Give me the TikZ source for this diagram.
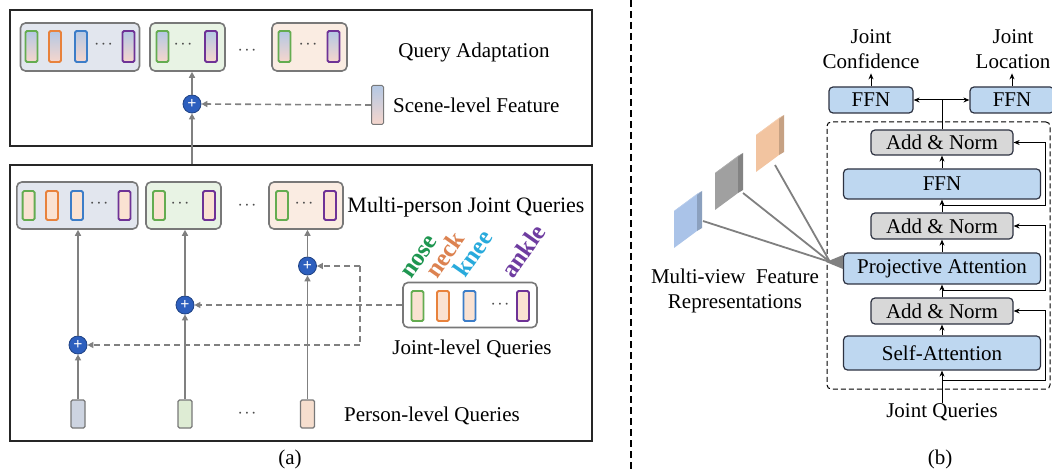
\documentclass[tikz,border=0pt]{standalone}
\usepackage{fontspec}
\setmainfont{Liberation Serif}
\usetikzlibrary{arrows.meta,calc}
\definecolor{garrow}{RGB}{128,128,128}
\definecolor{gbord}{RGB}{120,120,120}
\definecolor{gafill}{RGB}{226,230,238}
\definecolor{gbfill}{RGB}{232,243,228}
\definecolor{gcfill}{RGB}{250,236,226}
\definecolor{cgreen}{RGB}{100,172,80}
\definecolor{corange}{RGB}{232,130,60}
\definecolor{cblue}{RGB}{60,125,200}
\definecolor{cpurple}{RGB}{110,50,150}
\definecolor{bartop}{RGB}{180,200,228}
\definecolor{barbot}{RGB}{246,214,204}
\definecolor{peach}{RGB}{250,226,210}
\definecolor{plusblue}{RGB}{45,95,190}
\definecolor{boxblue}{RGB}{190,215,240}
\definecolor{boxgray}{RGB}{216,216,216}
\definecolor{boxdraw}{RGB}{45,50,65}
\definecolor{nosec}{RGB}{30,150,80}
\definecolor{neckc}{RGB}{220,130,80}
\definecolor{kneec}{RGB}{40,170,220}
\definecolor{anklec}{RGB}{110,60,160}
\definecolor{pbone}{RGB}{205,212,225}
\definecolor{pbtwo}{RGB}{222,236,212}
\definecolor{pbthree}{RGB}{246,222,206}
\definecolor{slabblue}{RGB}{170,195,232}
\definecolor{slabgray}{RGB}{160,160,160}
\definecolor{slaborange}{RGB}{242,196,160}
\newcommand\drawslab[3]{%
  \fill[#3] (#1,#2) -- (#1,#2-37) -- (#1+23,#2-54) -- (#1+23,#2-17) -- cycle;
  \fill[#3!82!black] (#1+23,#2-17) -- (#1+23,#2-54) -- (#1+28,#2-57) -- (#1+28,#2-20) -- cycle;
  \fill[#3!80!white] (#1,#2-37) -- (#1+5,#2-40) -- (#1+28,#2-57) -- (#1+23,#2-54) -- cycle;
}
\newcommand\gdots{·\kern1.5pt·\kern1.5pt·}
\begin{document}
\begin{tikzpicture}[x=1pt,y=-1pt,
  grp/.style={draw=gbord, line width=1.6pt, rounded corners=5pt, inner sep=0pt},
  qbar/.style={draw=#1, line width=1.8pt, rounded corners=1.5pt, minimum width=12pt, inner sep=0pt},
  topbar/.style={qbar=#1, top color=bartop, bottom color=barbot, minimum height=31pt},
  botbar/.style={qbar=#1, fill=peach, minimum height=29pt},
  pbar/.style={draw=gbord, fill=#1, line width=1.4pt, rounded corners=1.5pt, minimum width=14pt, minimum height=28pt, inner sep=0pt},
  plusnode/.style={circle, fill=plusblue, draw=plusblue!70!black, line width=0.8pt, minimum size=18pt, inner sep=0pt, text=white, font=\bfseries\fontsize{16}{16}\selectfont},
  garr/.style={draw=garrow, line width=1.6pt, -{Triangle[length=6pt,width=6pt]}},
  gdash/.style={garr, dash pattern=on 6pt off 4pt},
  txt/.style={font=\fontsize{21}{25}\selectfont, inner sep=0pt},
  gdot/.style={font=\fontsize{16}{16}\selectfont, inner sep=0pt, text=black!70},
  lab/.style={font=\bfseries\fontsize{25}{25}\selectfont, rotate=55, anchor=base west, inner sep=0pt},
  bbox/.style={draw=boxdraw, fill=boxblue, line width=1.2pt, rounded corners=4pt, inner sep=0pt, font=\fontsize{21}{21}\selectfont},
  gbox/.style={bbox, fill=boxgray},
  arr/.style={draw=black, line width=1pt, -{Stealth[length=6pt,width=5pt]}},
  slabline/.style={draw=garrow, line width=1.8pt}
]
\useasboundingbox (0,0) rectangle (1052,470);
\fill[white] (0,0) rectangle (1052,470);

% ---------- panel (a) ----------
\node[draw=black!85, line width=1.6pt, minimum width=582pt, minimum height=136pt, inner sep=0pt] (qa) at (301,78) {};
\node[draw=black!85, line width=1.6pt, minimum width=582pt, minimum height=276pt, inner sep=0pt] (mj) at (301,303) {};

% top groups
\node[grp, fill=gafill, minimum width=119pt, minimum height=48pt] (tga) at (80,47) {};
\node[grp, fill=gbfill, minimum width=75pt, minimum height=48pt] (tgb) at (187.5,47) {};
\node[grp, fill=gcfill, minimum width=75pt, minimum height=48pt] (tgc) at (309.5,47) {};
\node[topbar=cgreen] (ta1) at (31.5,46.5) {};
\node[topbar=corange] (ta2) at (55,46.5) {};
\node[topbar=cblue] (ta3) at (81,46.5) {};
\node[gdot] (tad) at (103.5,46.5) {\gdots};
\node[topbar=cpurple] (ta4) at (128.5,46.5) {};
\node[topbar=cgreen] (tb1) at (162.5,46.5) {};
\node[gdot] (tbd) at (183,46.5) {\gdots};
\node[topbar=cpurple] (tb4) at (211,46.5) {};
\node[topbar=cgreen] (tc1) at (284.5,46.5) {};
\node[gdot] (tcd) at (308,46.5) {\gdots};
\node[topbar=cpurple] (tc4) at (333.5,46.5) {};
\node[gdot] (tgd) at (247,52) {\gdots};
\node[txt] (tqa) at (474,52) {Query Adaptation};

\node[plusnode] (p0) at (192,104) {+};
\node[qbar=gbord, line width=1pt, top color=bartop, bottom color=barbot, minimum height=39pt] (scene) at (377.5,105) {};
\node[txt, anchor=west] (tsf) at (393,105) {Scene-level Feature};
\draw[gdash] (scene.west) -- (p0.east);
\draw[garr] (mj.north -| p0) -- (p0.south);
\draw[garr] (p0.north) -- (p0.north |- tgb.south);

% bottom groups
\node[grp, fill=gafill, minimum width=121pt, minimum height=47pt] (bga) at (77.3,205.5) {};
\node[grp, fill=gbfill, minimum width=75pt, minimum height=47pt] (bgb) at (183.5,205.5) {};
\node[grp, fill=gcfill, minimum width=74pt, minimum height=47pt] (bgc) at (306,205.5) {};
\node[botbar=cgreen] (ba1) at (28.6,205.5) {};
\node[botbar=corange] (ba2) at (52,205.5) {};
\node[botbar=cblue] (ba3) at (77,205.5) {};
\node[gdot] (bad) at (99,205.5) {\gdots};
\node[botbar=cpurple] (ba4) at (124.5,205.5) {};
\node[botbar=cgreen] (bb1) at (159,205.5) {};
\node[gdot] (bbd) at (180,205.5) {\gdots};
\node[botbar=cpurple] (bb4) at (209,205.5) {};
\node[botbar=cgreen] (bc1) at (282,205.5) {};
\node[gdot] (bcd) at (304,205.5) {\gdots};
\node[botbar=cpurple] (bc4) at (330,205.5) {};
\node[gdot] (bgd) at (247,207) {\gdots};
\node[txt, font=\fontsize{22}{25}\selectfont] (tmj) at (466,207) {Multi-person Joint Queries};

% person-level queries
\node[pbar=pbone] (pq1) at (78,414) {};
\node[pbar=pbtwo] (pq2) at (185,414) {};
\node[pbar=pbthree] (pq3) at (307.5,414) {};
\node[gdot] (pqd) at (247,415) {\gdots};
\node[txt] (tpq) at (432,416) {Person-level Queries};

\node[plusnode] (pl1) at (78,345) {+};
\node[plusnode] (pl2) at (185,305) {+};
\node[plusnode] (pl3) at (307.5,266) {+};
\draw[garr] (pq1.north) -- (pl1.south);
\draw[garr] (pl1.north) -- (pl1.north |- bga.south);
\draw[garr] (pq2.north) -- (pl2.south);
\draw[garr] (pl2.north) -- (pl2.north |- bgb.south);
\draw[garr] (pq3.north) -- (pl3.south);
\draw[garr] (pl3.north) -- (pl3.north |- bgc.south);

% joint-level queries
\node[grp, fill=white, minimum width=134pt, minimum height=45pt] (jg) at (470,305) {};
\node[botbar=cgreen, minimum height=30pt] (j1) at (417.5,306) {};
\node[botbar=corange, minimum height=30pt] (j2) at (443,306) {};
\node[botbar=cblue, minimum height=30pt] (j3) at (469.5,306) {};
\node[gdot] (jd) at (500,306) {\gdots};
\node[botbar=cpurple, minimum height=30pt] (j4) at (523,306) {};
\node[txt] (tjq) at (472,349) {Joint-level Queries};
\node[lab, text=nosec] (lnose) at (411,280) {nose};
\node[lab, text=neckc] (lneck) at (437,280) {neck};
\node[lab, text=kneec] (lknee) at (465,279) {knee};
\node[lab, text=anklec] (lankle) at (513,280) {ankle};

\coordinate (vt) at (360,266);
\coordinate (vb) at (360,345);
\draw[gdash] (jg.west) -- (pl2.east);
\draw[gdash, -] (vt) -- (vb);
\draw[gdash] (vt) -- (pl3.east);
\draw[gdash] (vb) -- (pl1.east);

\node[txt] (la) at (290,459) {(a)};

% separator
\draw[line width=2.2pt, dash pattern=on 7pt off 4pt] (631,0) -- (631,470);

% ---------- panel (b) ----------
\node[draw, line width=1pt, dash pattern=on 5pt off 3pt, rounded corners=4pt, minimum width=223pt, minimum height=267pt, inner sep=0pt] (enc) at (938.5,255.5) {};
\node[bbox, minimum width=84pt, minimum height=26pt] (ffnl) at (871,100) {FFN};
\node[bbox, minimum width=84pt, minimum height=26pt] (ffnr) at (1012,100) {FFN};
\node[gbox, minimum width=142pt, minimum height=25pt] (an1) at (942,142.5) {Add \& Norm};
\node[bbox, minimum width=197pt, minimum height=30pt] (ffnm) at (942,184) {FFN};
\node[gbox, minimum width=142pt, minimum height=26pt] (an2) at (942,226) {Add \& Norm};
\node[bbox, minimum width=197pt, minimum height=31pt] (pa) at (942,268.5) {Projective Attention};
\node[gbox, minimum width=142pt, minimum height=26pt] (an3) at (942,311) {Add \& Norm};
\node[bbox, minimum width=197pt, minimum height=34pt] (sa) at (942,353) {Self-Attention};

\node[txt, align=center] (jc) at (871,49) {Joint\\Confidence};
\node[txt, align=center] (jl) at (1013,49) {Joint\\Location};
\node[txt] (jq) at (942,412) {Joint Queries};
\node[txt] (lb) at (940,459) {(b)};
\node[txt, align=center] (mv) at (735,291) {Multi-view\ \ Feature\\Representations};

\draw[arr] (ffnl.north) -- ++(0,-13);
\draw[arr] (ffnr.north) -- ++(0,-13);
\coordinate (split) at (942,100);
\draw[line width=1pt] (an1.north) -- (split);
\draw[arr] (split) -- (ffnl.east);
\draw[arr] (split) -- (ffnr.west);
\draw[arr] (jq.north) -- (sa.south);
\draw[arr] (sa.north) -- (an3.south);
\draw[arr] (an3.north) -- (pa.south);
\draw[arr] (pa.north) -- (an2.south);
\draw[arr] (an2.north) -- (ffnm.south);
\draw[arr] (ffnm.north) -- (an1.south);
\coordinate (rx) at (1045,0);
\coordinate (ra) at (942,380);
\coordinate (rb) at (942,291);
\coordinate (rc) at (942,206);
\draw[arr] (ra) -- (ra -| rx) |- (an3.east);
\draw[arr] (rb) -- (rb -| rx) |- (an2.east);
\draw[arr] (rc) -- (rc -| rx) |- (an1.east);

% slabs
\drawslab{674}{248}{slabblue}
\drawslab{715}{210}{slabgray}
\drawslab{756}{172}{slaborange}
\coordinate (sb1) at (703,221);
\coordinate (sb2) at (743,193);
\coordinate (sb3) at (775,165);
\coordinate (conv) at (830,262);
\draw[slabline] (sb1) -- (conv);
\draw[slabline] (sb2) -- (conv);
\draw[slabline] (sb3) -- (conv);
\fill[garrow] (826,262) -- (843,255) -- (843,269) -- cycle;
\end{tikzpicture}
\end{document}
